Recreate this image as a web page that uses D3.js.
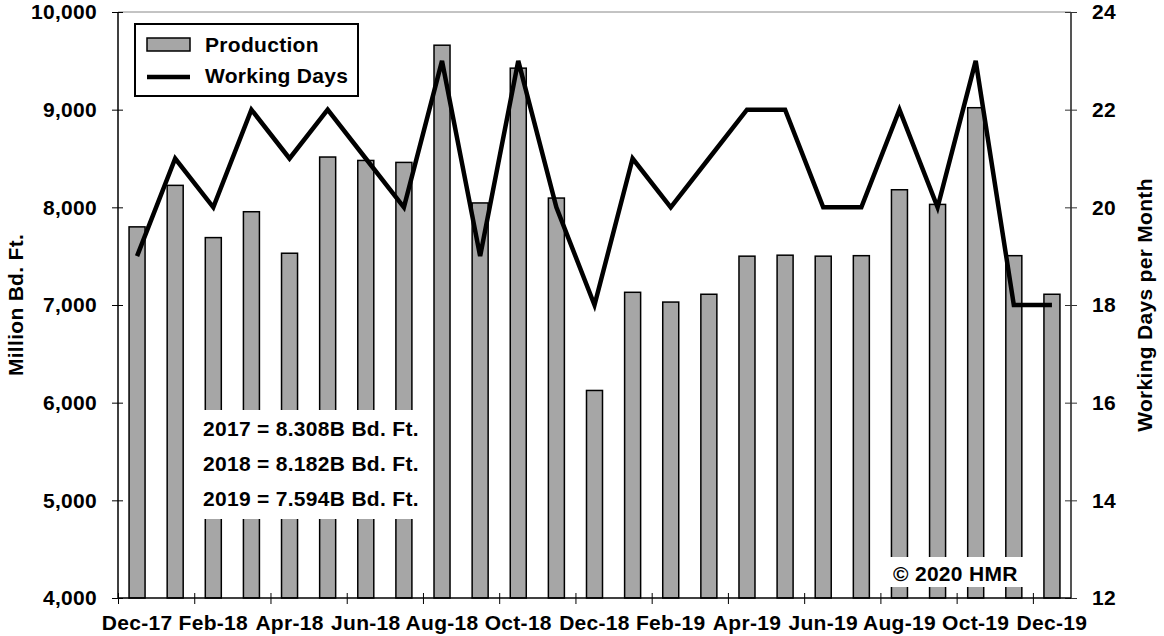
<!DOCTYPE html>
<html>
<head>
<meta charset="utf-8">
<script src="https://cdn.jsdelivr.net/npm/d3@7"></script>
<style>
  body { margin: 0; background: #fff; }
  svg text { font-family: "Liberation Sans", Arial, sans-serif; font-weight: bold; fill: #000; letter-spacing: 0.3px; }
</style>
</head>
<body>
<svg id="chart"></svg>
<script>
var months = ["Dec-17","Jan-18","Feb-18","Mar-18","Apr-18","May-18","Jun-18","Jul-18","Aug-18","Sep-18","Oct-18","Nov-18",
              "Dec-18","Jan-19","Feb-19","Mar-19","Apr-19","May-19","Jun-19","Jul-19","Aug-19","Sep-19","Oct-19","Nov-19","Dec-19"]
var production = [7800, 8225, 7690, 7955, 7530, 8515, 8480, 8460, 9660, 8045, 9425, 8095,
                  6125, 7130, 7030, 7110, 7500, 7510, 7500, 7505, 8180, 8030, 9020, 7505, 7110]
var workingDays = [19, 21, 20, 22, 21, 22, 21, 20, 23, 19, 23, 20,
                   18, 21, 20, 21, 22, 22, 20, 20, 22, 20, 23, 18, 18]
var leftTicks = [4000, 5000, 6000, 7000, 8000, 9000, 10000]
var rightTicks = [12, 14, 16, 18, 20, 22, 24]
var yearTotals = ["2017 = 8.308B Bd. Ft.", "2018 = 8.182B Bd. Ft.", "2019 = 7.594B Bd. Ft."]
var legendLabels = ["Production", "Working Days"]
var copyright = "\u00a9 2020 HMR"

var width = 1164, height = 636
var margin = {top: 12, right: 93, bottom: 38, left: 118}
var x0 = margin.left, x1 = width - margin.right
var y0 = height - margin.bottom, y1 = margin.top
var fs = "21px"

var svg = d3.select("#chart").attr("width", width).attr("height", height)

var x = d3.scaleBand().domain(months).range([x0, x1]).paddingInner(0.58).paddingOuter(0.29)
var xIdx = d3.scaleLinear().domain([0, months.length]).range([x0, x1])
var y = d3.scaleLinear().domain([4000, 10000]).range([y0, y1])
var y2 = d3.scaleLinear().domain([12, 24]).range([y0, y1])

// top border of plot
svg.append("line").attr("x1", x0).attr("x2", x1).attr("y1", y1).attr("y2", y1)
    .attr("stroke", "#888").attr("stroke-width", 1)

// bars
svg.selectAll("rect.bar").data(production).enter().append("rect")
    .attr("class", "bar")
    .attr("x", function(d, i) { return x(months[i]) })
    .attr("y", function(d) { return y(d) })
    .attr("width", x.bandwidth())
    .attr("height", function(d) { return y0 - y(d) })
    .attr("fill", "#a6a6a6")
    .attr("stroke", "#000")
    .attr("stroke-width", 1.5)

// working days line
var line = d3.line()
    .x(function(d, i) { return x(months[i]) + x.bandwidth() / 2 })
    .y(function(d) { return y2(d) })
svg.append("path").datum(workingDays)
    .attr("d", line)
    .attr("fill", "none")
    .attr("stroke", "#000")
    .attr("stroke-width", 4.5)
    .attr("stroke-linejoin", "miter")

// left axis
var gl = svg.append("g").attr("transform", "translate(" + x0 + ",0)")
    .call(d3.axisLeft(y).tickValues(leftTicks).tickFormat(d3.format(",")).tickSize(6).tickPadding(15))
gl.select(".domain").attr("stroke", "#000").attr("stroke-width", 1.5).attr("d", "M0," + y0 + "V" + y1)
gl.selectAll(".tick line").attr("x1", 5).attr("stroke", "#000")
gl.selectAll("text").style("font-size", fs)

// right axis
var gr = svg.append("g").attr("transform", "translate(" + x1 + ",0)")
    .call(d3.axisRight(y2).tickValues(rightTicks).tickSize(6).tickPadding(15))
gr.select(".domain").attr("stroke", "#555").attr("stroke-width", 2).attr("d", "M0," + y0 + "V" + y1)
gr.selectAll(".tick line").attr("x1", -6).attr("stroke", "#333")
gr.selectAll("text").style("font-size", fs)

// bottom axis: ticks between pairs of months
var gb = svg.append("g").attr("transform", "translate(0," + y0 + ")")
    .call(d3.axisBottom(xIdx).tickValues(d3.range(0, months.length, 2)).tickSize(6).tickFormat(""))
gb.select(".domain").attr("stroke", "#000").attr("stroke-width", 1.5).attr("d", "M" + x0 + ",0H" + x1)
gb.selectAll(".tick line").attr("y1", -5).attr("stroke", "#000")

var gbl = svg.append("g").attr("transform", "translate(0," + y0 + ")")
    .call(d3.axisBottom(x).tickValues(months.filter(function(d, i) { return i % 2 === 0 })).tickSize(0).tickPadding(17))
gbl.select(".domain").remove()
gbl.selectAll("text").style("font-size", fs)

// axis titles
svg.append("text")
    .attr("transform", "translate(23," + ((y0 + y1) / 2) + ") rotate(-90)")
    .attr("text-anchor", "middle")
    .style("font-size", fs)
    .text("Million Bd. Ft.")
svg.append("text")
    .attr("transform", "translate(1152," + ((y0 + y1) / 2) + ") rotate(-90)")
    .attr("text-anchor", "middle")
    .style("font-size", fs)
    .text("Working Days per Month")

// legend
var lg = svg.append("g")
lg.append("rect").attr("x", 135).attr("y", 24).attr("width", 223).attr("height", 72)
    .attr("fill", "#fff").attr("stroke", "#000").attr("stroke-width", 2)
lg.append("rect").attr("x", 147).attr("y", 38).attr("width", 43).attr("height", 13)
    .attr("fill", "#a6a6a6").attr("stroke", "#000").attr("stroke-width", 1.5)
lg.append("line").attr("x1", 147).attr("x2", 190).attr("y1", 77).attr("y2", 77)
    .attr("stroke", "#000").attr("stroke-width", 4.5)
lg.selectAll("text.leg").data(legendLabels).enter().append("text")
    .attr("class", "leg")
    .attr("x", 205)
    .attr("y", function(d, i) { return 52 + i * 31 })
    .style("font-size", fs)
    .text(function(d) { return d })

// yearly totals
svg.append("rect").attr("x", 200).attr("y", 410).attr("width", 225).attr("height", 109).attr("fill", "#fff")
svg.selectAll("text.total").data(yearTotals).enter().append("text")
    .attr("class", "total")
    .attr("x", 203)
    .attr("y", function(d, i) { return 436 + i * 35 })
    .style("font-size", fs)
    .text(function(d) { return d })

// copyright
svg.append("rect").attr("x", 890).attr("y", 557).attr("width", 133).attr("height", 30).attr("fill", "#fff")
svg.append("text").attr("x", 893).attr("y", 581).style("font-size", fs).text(copyright)
</script>
</body>
</html>
